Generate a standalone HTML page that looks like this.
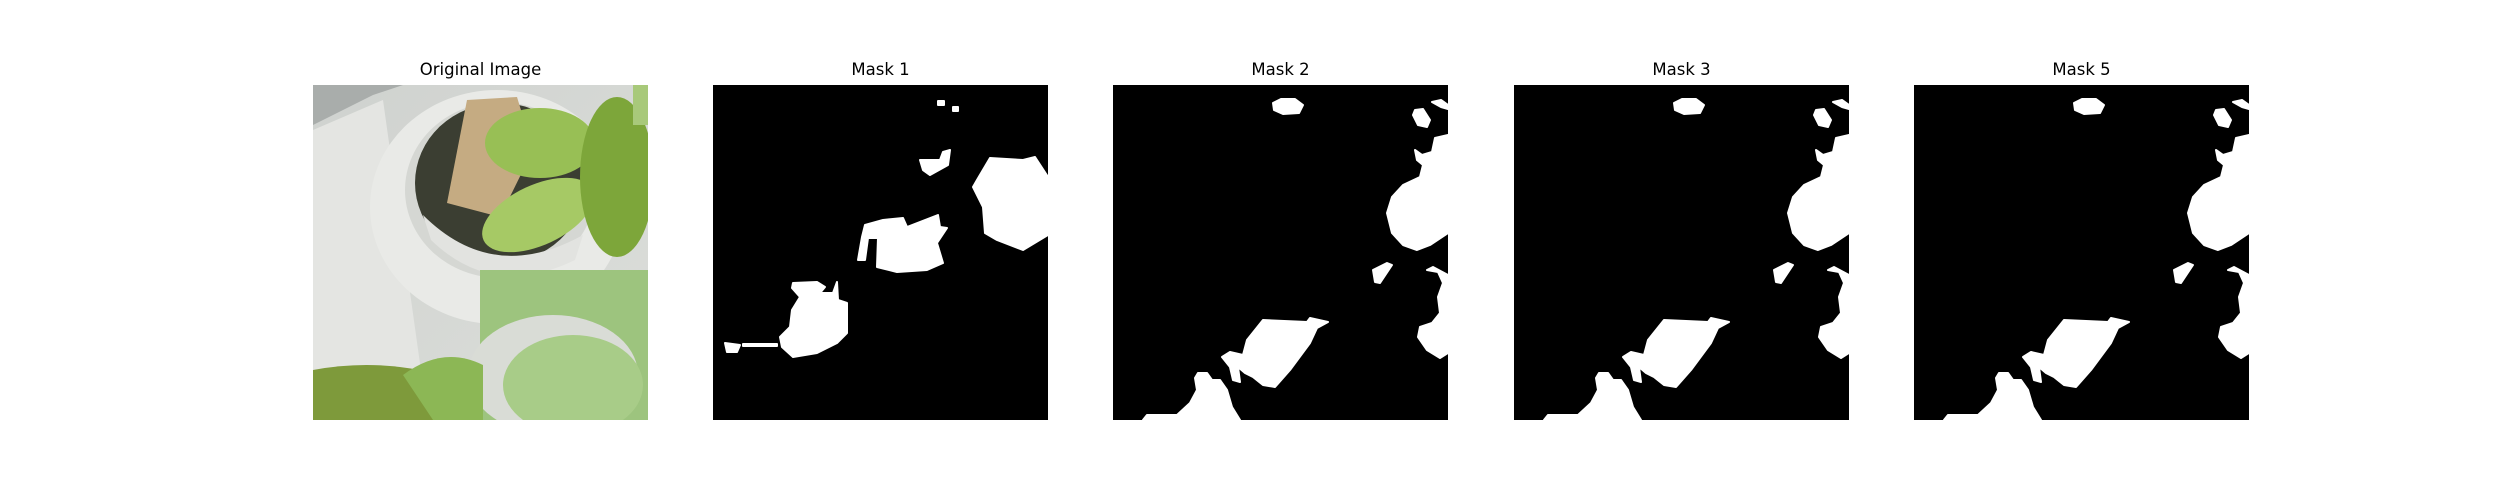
<!DOCTYPE html>
<html><head><meta charset="utf-8"><style>
html,body{margin:0;padding:0;background:#fff;}
body{width:2500px;height:500px;position:relative;overflow:hidden;font-family:"DejaVu Sans","Liberation Sans",sans-serif;}
.title{position:absolute;top:60px;width:335px;text-align:center;font-size:16.5px;color:#000;}
svg.panel{position:absolute;top:85px;width:335px;height:335px;}
</style></head><body>
<div class="title" style="left:313px">Original Image</div>
<div class="title" style="left:713px">Mask 1</div>
<div class="title" style="left:1113px">Mask 2</div>
<div class="title" style="left:1514px">Mask 3</div>
<div class="title" style="left:1914px">Mask 5</div>

<svg class="panel" style="left:313px" viewBox="0 0 335 335">
<defs>
<linearGradient id="bg" x1="0" y1="0" x2="1" y2="1"><stop offset="0" stop-color="#cfd2cf"/><stop offset="1" stop-color="#dcdeda"/></linearGradient>
</defs>
<rect width="335" height="335" fill="url(#bg)"/>
<polygon points="0,40 60,10 90,0 0,0" fill="#a9adab"/>
<polygon points="0,45 70,15 110,300 0,300" fill="#e4e5e2"/>
<ellipse cx="184" cy="122" rx="127" ry="117" fill="#e9eae7"/>
<ellipse cx="187" cy="105" rx="95" ry="88" fill="#d5d7d3"/>
<ellipse cx="187" cy="98" rx="85" ry="80" fill="#3b3e32"/>
<polygon points="154,15 204,12 220,65 187,132 134,118" fill="#c5ab82"/>
<path d="M110,130 Q180,200 270,150 L262,175 Q180,215 118,155 Z" fill="#e2e3e0"/>
<ellipse cx="227" cy="58" rx="55" ry="35" fill="#98bf55"/>
<ellipse cx="225" cy="130" rx="60" ry="30" fill="#a6c965" transform="rotate(-25 225 130)"/>
<ellipse cx="304" cy="92" rx="37" ry="80" fill="#7da63a"/>
<rect x="320" y="0" width="15" height="40" fill="#a8c97a"/>
<rect x="167" y="185" width="168" height="150" fill="#9dc47e"/>
<ellipse cx="240" cy="290" rx="85" ry="60" fill="#d9dcd6"/>
<ellipse cx="260" cy="300" rx="70" ry="50" fill="#a8cc88"/>
<path d="M0,285 Q80,270 160,300 L160,335 L0,335 Z" fill="#7e9a3b"/>
<path d="M90,290 Q130,260 170,280 L170,335 L120,335 Z" fill="#8cb755"/>
</svg>

<svg class="panel" id="m1" style="left:713px" viewBox="0 0 335 335"><rect width="335" height="335" fill="#000"/></svg>
<svg class="panel" id="m2" style="left:1113px" viewBox="0 0 335 335"><rect width="335" height="335" fill="#000"/></svg>
<svg class="panel" id="m3" style="left:1514px" viewBox="0 0 335 335"><rect width="335" height="335" fill="#000"/></svg>
<svg class="panel" id="m5" style="left:1914px" viewBox="0 0 335 335"><rect width="335" height="335" fill="#000"/></svg>

<script>
const mask1Blobs = [
 [[277,73],[310,75],[322,72],[335,92],[335,150],[310,165],[284,155],[272,148],[270,122],[260,102],[264,95]],
 [[152,140],[170,135],[190,133],[194,142],[225,130],[227,142],[234,143],[224,158],[230,178],[214,185],[184,187],[164,182],[165,153],[155,153],[152,175],[145,175],[149,152]],
 [[80,198],[104,197],[112,202],[107,208],[120,208],[124,197],[125,215],[134,218],[134,248],[124,258],[104,268],[80,272],[69,262],[67,252],[77,242],[79,225],[87,212],[79,203]],
 [[12,258],[27,260],[24,267],[14,267]],
 [[30,259],[64,259],[64,261],[30,261]],
 [[207,75],[227,75],[230,67],[237,65],[235,80],[217,90],[210,85]],
 [[225,16],[231,16],[231,20],[225,20]],
 [[240,22],[245,22],[245,26],[240,26]]
];
const mask2Blobs = [
 [[160,18],[168,14],[182,14],[190,20],[186,28],[170,29],[161,25]],
 [[302,25],[310,24],[317,35],[314,42],[305,40],[300,30]],
 [[319,17],[328,15],[335,20],[335,24],[328,22]],
 [[335,50],[322,53],[319,67],[309,70],[302,65],[304,75],[310,80],[307,92],[290,100],[279,112],[274,128],[279,148],[290,160],[304,165],[317,160],[335,148]],
 [[260,185],[274,178],[279,180],[267,198],[262,197]],
 [[314,185],[325,187],[330,198],[325,212],[327,228],[319,238],[307,242],[305,252],[314,265],[327,273],[335,268],[335,190],[320,182]],
 [[150,235],[194,237],[197,233],[215,237],[204,243],[197,258],[177,285],[162,302],[150,300],[140,292],[132,288],[125,282],[127,297],[120,295],[117,282],[109,272],[117,267],[130,270],[134,255]],
 [[85,288],[94,288],[99,295],[107,295],[114,305],[119,322],[127,335],[30,335],[34,330],[64,330],[77,318],[84,305],[82,293]]
];
function drawMask(id, blobs){
  const svg = document.getElementById(id);
  blobs.forEach(b=>{
    const p = document.createElementNS('http://www.w3.org/2000/svg','polygon');
    p.setAttribute('points', b.map(q=>q.join(',')).join(' '));
    p.setAttribute('fill','#fff');
    p.setAttribute('stroke','#fff');
    p.setAttribute('stroke-width','2');
    p.setAttribute('stroke-linejoin','round');
    
    
    svg.appendChild(p);
  });
  const r = document.createElementNS('http://www.w3.org/2000/svg','rect');
  r.setAttribute('x','-5'); r.setAttribute('y','-5'); r.setAttribute('width','345'); r.setAttribute('height','345');
  r.setAttribute('fill','none'); r.setAttribute('stroke','#fff'); r.setAttribute('stroke-width','10');
  
  
  svg.appendChild(r);
}
drawMask('m1', mask1Blobs);
drawMask('m2', mask2Blobs);
drawMask('m3', mask2Blobs);
drawMask('m5', mask2Blobs);
</script>
</body></html>
